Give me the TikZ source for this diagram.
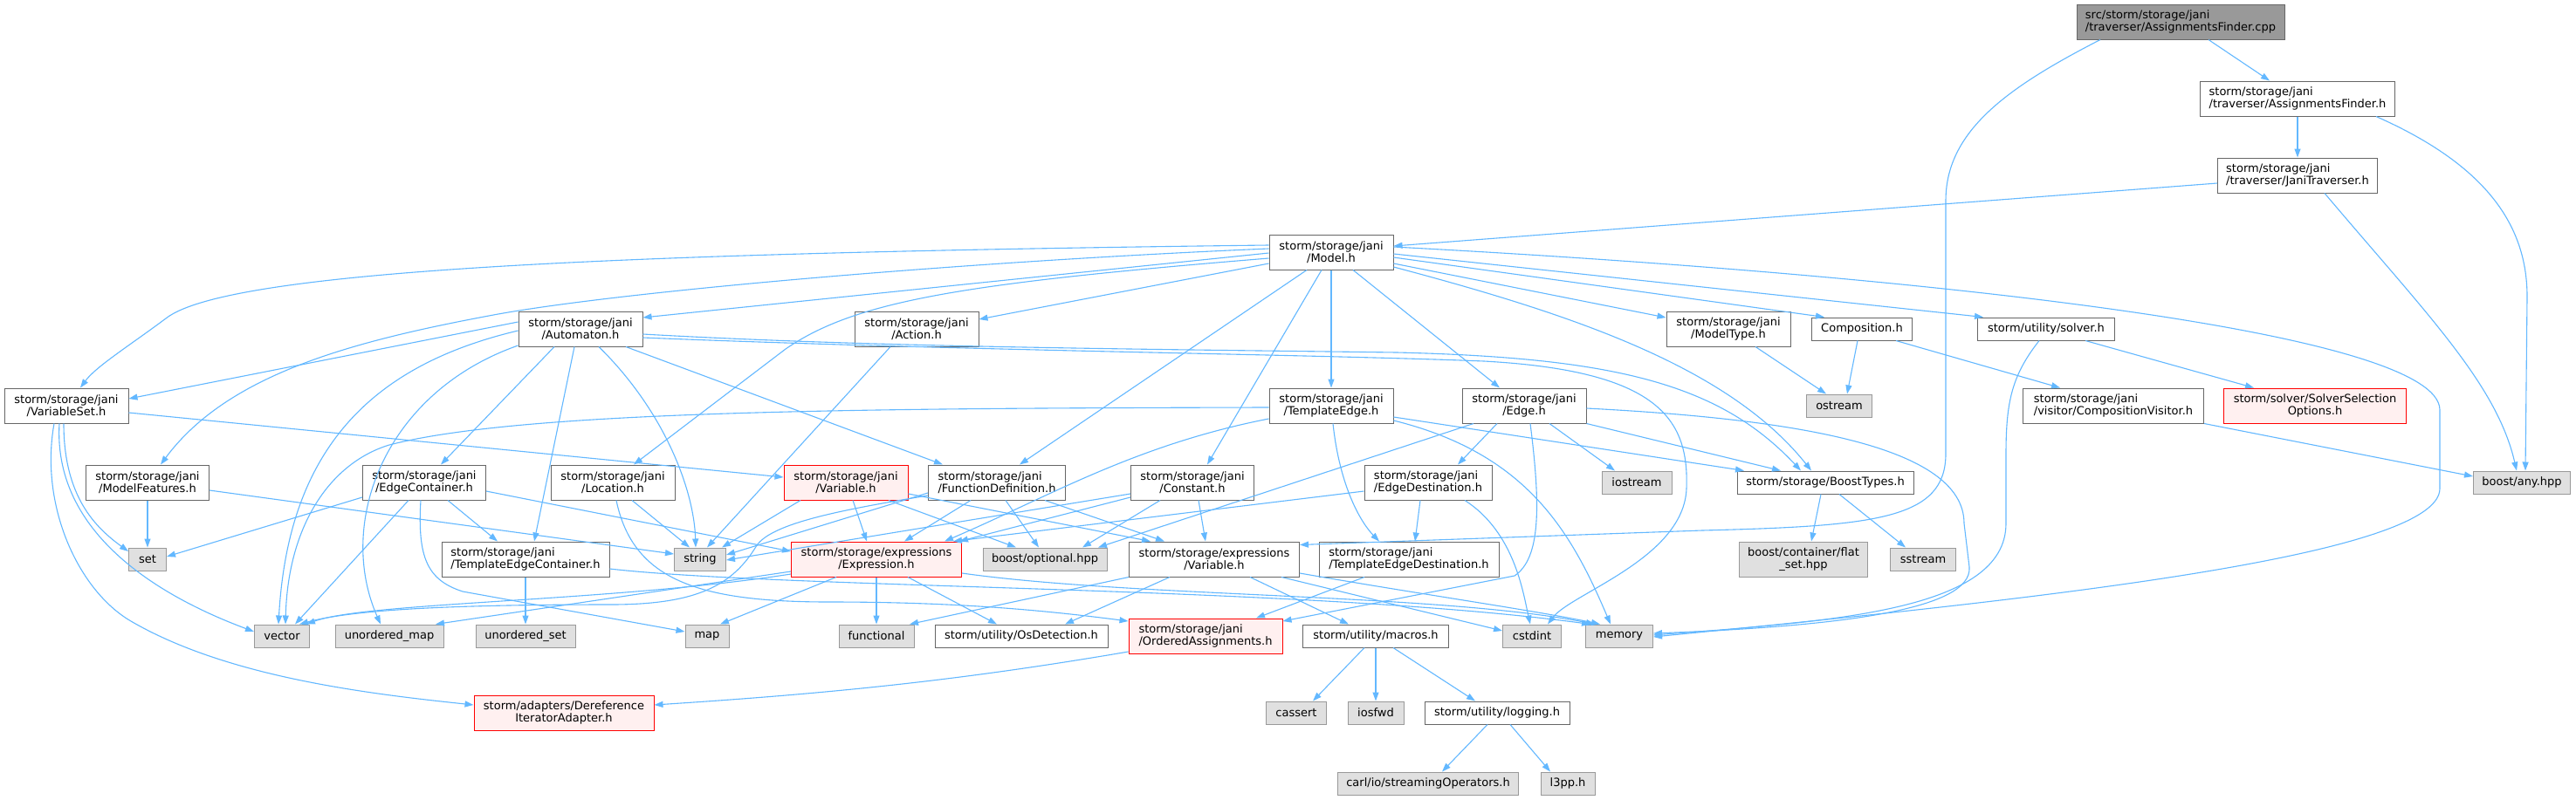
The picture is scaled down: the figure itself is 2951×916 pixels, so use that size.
\documentclass[tikz,border=0pt]{standalone}
\usepackage{fontspec}
\setmainfont{DejaVu Sans}
\usepackage{tikz}
\usetikzlibrary{arrows.meta}

\definecolor{inclBlue}{HTML}{63B8FF}
\definecolor{boxLine}{HTML}{666666}
\definecolor{sysLine}{HTML}{999999}
\definecolor{sysFill}{HTML}{E0E0E0}
\definecolor{rootFill}{HTML}{999999}
\definecolor{cutFill}{HTML}{FFF0F0}

\begin{document}
\begin{tikzpicture}[
    x=1pt, y=-1pt, >={Triangle[length=10pt,width=7pt]},
    font=\fontsize{13pt}{14.5pt}\selectfont,
    % Styles
    fileNode/.style={draw=boxLine, fill=white, line width=1pt, align=center, inner xsep=2pt, inner ysep=2pt, minimum height=26pt},
    twoLine/.style={minimum height=40pt},
    sysNode/.style={fileNode, draw=sysLine, fill=sysFill},
    rootNode/.style={fileNode, twoLine, fill=rootFill},
    cutNode/.style={fileNode, draw=red, fill=cutFill},
    incl/.style={->, draw=inclBlue, line width=1.1pt}
]

\fill[white] (0,0) rectangle (2951,916);
\useasboundingbox (0,0) rectangle (2951,916);

% ================= TOP: ROOT AND TRAVERSER =================
\node[rootNode, minimum width=238pt, align=left] (cpp) at (2498,25) {src/storm/storage/jani\\/traverser/AssignmentsFinder.cpp};
\node[fileNode, twoLine, minimum width=223pt, align=left] (afh) at (2632,113) {storm/storage/jani\\/traverser/AssignmentsFinder.h};
\node[fileNode, twoLine, minimum width=183pt, align=left] (jth) at (2632,201) {storm/storage/jani\\/traverser/JaniTraverser.h};
\node[fileNode, twoLine, minimum width=142pt] (model) at (1525,289) {storm/storage/jani\\/Model.h};

% ================= JANI HEADERS =================
\node[fileNode, twoLine, minimum width=142pt] (automaton) at (665,377) {storm/storage/jani\\/Automaton.h};
\node[fileNode, twoLine, minimum width=142pt] (action) at (1050,377) {storm/storage/jani\\/Action.h};
\node[fileNode, twoLine, minimum width=142pt] (modeltype) at (1980,377) {storm/storage/jani\\/ModelType.h};
\node[fileNode, minimum width=115pt] (composition) at (2133,377) {Composition.h};
\node[fileNode, minimum width=157pt] (solver) at (2344,377) {storm/utility/solver.h};

\node[fileNode, twoLine, minimum width=142pt] (varset) at (76,465) {storm/storage/jani\\/VariableSet.h};
\node[fileNode, twoLine, minimum width=142pt] (tedge) at (1525,465) {storm/storage/jani\\/TemplateEdge.h};
\node[fileNode, twoLine, minimum width=142pt] (edge) at (1746,465) {storm/storage/jani\\/Edge.h};
\node[sysNode, minimum width=75pt] (ostream) at (2107,465) {ostream};
\node[fileNode, twoLine, minimum width=207pt, align=left] (compvis) at (2421,465) {storm/storage/jani\\/visitor/CompositionVisitor.h};
\node[cutNode, twoLine, minimum width=209pt] (solversel) at (2652,465) {storm/solver/SolverSelection\\Options.h};

\node[fileNode, twoLine, minimum width=141pt] (modelfeat) at (169,553) {storm/storage/jani\\/ModelFeatures.h};
\node[fileNode, twoLine, minimum width=141pt] (edgecont) at (486,553) {storm/storage/jani\\/EdgeContainer.h};
\node[fileNode, twoLine, minimum width=142pt] (location) at (702,553) {storm/storage/jani\\/Location.h};
\node[cutNode, twoLine, minimum width=142pt] (jvar) at (969,553) {storm/storage/jani\\/Variable.h};
\node[fileNode, twoLine, minimum width=157pt, align=left] (funcdef) at (1142,553) {storm/storage/jani\\/FunctionDefinition.h};
\node[fileNode, twoLine, minimum width=141pt] (constant) at (1366,553) {storm/storage/jani\\/Constant.h};
\node[fileNode, twoLine, minimum width=146pt, align=left] (edgedest) at (1636,553) {storm/storage/jani\\/EdgeDestination.h};
\node[sysNode, minimum width=80pt] (iostream) at (1875,553) {iostream};
\node[fileNode, minimum width=202pt] (boosttypes) at (2091,553) {storm/storage/BoostTypes.h};
\node[sysNode, minimum width=111pt] (anyhpp) at (2889,553) {boost/any.hpp};

% ================= EXPRESSIONS AND LOWER ROWS =================
\node[sysNode, minimum width=43pt] (set) at (169,641) {set};
\node[fileNode, twoLine, minimum width=192pt, align=left] (tec) at (602,641) {storm/storage/jani\\/TemplateEdgeContainer.h};
\node[sysNode, minimum width=59pt] (string) at (802,641) {string};
\node[cutNode, twoLine, minimum width=195pt] (expr) at (1004,641) {storm/storage/expressions\\/Expression.h};
\node[sysNode, minimum width=142pt] (optional) at (1197,641) {boost/optional.hpp};
\node[fileNode, twoLine, minimum width=195pt] (evar) at (1391,641) {storm/storage/expressions\\/Variable.h};
\node[fileNode, twoLine, minimum width=206pt, align=left] (ted) at (1614,641) {storm/storage/jani\\/TemplateEdgeDestination.h};
\node[sysNode, twoLine, minimum width=147pt] (flatset) at (2066,641) {boost/container/flat\\\_set.hpp};
\node[sysNode, minimum width=75pt] (sstream) at (2203,641) {sstream};

\node[sysNode, minimum width=63pt] (vector) at (323,729) {vector};
\node[sysNode, minimum width=124pt] (umap) at (446,729) {unordered\_map};
\node[sysNode, minimum width=114pt] (uset) at (602,729) {unordered\_set};
\node[sysNode, minimum width=50pt] (map) at (810,729) {map};
\node[sysNode, minimum width=86pt] (functional) at (1004,729) {functional};
\node[fileNode, minimum width=198pt] (osdet) at (1170,729) {storm/utility/OsDetection.h};
\node[cutNode, twoLine, minimum width=176pt, align=left] (ordered) at (1381,729) {storm/storage/jani\\/OrderedAssignments.h};
\node[fileNode, minimum width=167pt] (macros) at (1576,729) {storm/utility/macros.h};
\node[sysNode, minimum width=67pt] (cstdint) at (1755,729) {cstdint};
\node[sysNode, minimum width=77pt] (memory) at (1855,729) {memory};

\node[cutNode, twoLine, minimum width=206pt] (deref) at (646,817) {storm/adapters/Dereference\\IteratorAdapter.h};
\node[sysNode, minimum width=69pt] (cassert) at (1485,817) {cassert};
\node[sysNode, minimum width=64pt] (iosfwd) at (1576,817) {iosfwd};
\node[fileNode, minimum width=166pt] (logging) at (1715,817) {storm/utility/logging.h};
\node[sysNode, minimum width=207pt] (streamops) at (1636,898) {carl/io/streamingOperators.h};
\node[sysNode, minimum width=62pt] (l3pp) at (1796,898) {l3pp.h};

% ================= INCLUDES: ROOT, TRAVERSER =================
\draw[incl] ([xshift=32pt]cpp.south) -- ([xshift=-32pt]afh.north);
\draw[incl] ([xshift=-92pt]cpp.south) .. controls (2300,100) and (2229,150) .. (2229,230) -- (2229,520) .. controls (2229,595) and (2150,603) .. (1950,608) -- ([yshift=-4pt]evar.north east);
\draw[incl] (afh) -- (jth);
\draw[incl] ([xshift=90pt]afh.south) .. controls (2850,190) and (2895,260) .. (2895,340) -- ([xshift=4pt]anyhpp.north);
\draw[incl] ([yshift=-9pt]jth.west) -- ([yshift=7pt]model.east);
\draw[incl] ([xshift=31pt]jth.south) .. controls (2780,360) and (2860,440) .. ([xshift=-6pt]anyhpp.north);

% ================= INCLUDES: MODEL =================
\draw[incl] ([yshift=8pt]model.west) .. controls (700,290) and (260,310) .. (190,365) .. controls (150,395) and (110,420) .. ([xshift=16pt]varset.north);
\draw[incl] ([yshift=4pt]model.west) .. controls (1100,300) and (700,335) .. (560,362) .. controls (400,392) and (260,430) .. ([xshift=15pt]modelfeat.north);
\draw[incl] ([yshift=-1pt]model.west) -- ([yshift=13pt]automaton.east);
\draw[incl] ([yshift=-7pt]model.west) .. controls (1100,325) and (980,345) .. (900,400) -- ([xshift=24pt]location.north);
\draw[incl] ([yshift=-13pt]model.west) -- ([yshift=11pt]action.east);
\draw[incl] ([xshift=-28pt]model.south) -- ([xshift=26pt]funcdef.north);
\draw[incl] ([xshift=-11pt]model.south) -- ([xshift=17pt]constant.north);
\draw[incl] (model) -- (tedge);
\draw[incl] ([xshift=25pt]model.south) -- ([xshift=-28pt]edge.north);
\draw[incl] ([yshift=6pt]model.east) .. controls (2200,315) and (2795,380) .. (2795,470) -- (2795,560) .. controls (2795,640) and (2300,690) .. ([yshift=-1pt]memory.east);
\draw[incl] ([yshift=-2pt]model.east) -- ([xshift=-72pt]solver.north);
\draw[incl] ([yshift=-6pt]model.east) -- ([xshift=-43pt]composition.north);
\draw[incl] ([yshift=-13pt]model.east) -- ([yshift=13pt]modeltype.west);
\draw[incl] ([yshift=-17pt]model.east) .. controls (1800,360) and (1980,420) .. ([xshift=-16pt]boosttypes.north);

% ================= INCLUDES: AUTOMATON, ACTION, COMPOSITION =================
\draw[incl] ([yshift=8pt]automaton.west) -- ([yshift=8pt]varset.east);
\draw[incl] ([yshift=-2pt]automaton.west) .. controls (420,420) and (330,520) .. ([xshift=-4pt]vector.north);
\draw[incl] ([yshift=-19pt]automaton.west) .. controls (440,450) and (385,600) .. ([xshift=-10pt]umap.north);
\draw[incl] ([xshift=-30pt]automaton.south) -- ([xshift=19pt]edgecont.north);
\draw[incl] ([xshift=-7pt]automaton.south) -- ([xshift=10pt]tec.north);
\draw[incl] ([xshift=21pt]automaton.south) .. controls (760,470) and (795,560) .. ([xshift=-5pt]string.north);
\draw[incl] ([xshift=52pt]automaton.south) -- ([xshift=-62pt]funcdef.north);
\draw[incl] ([yshift=-6pt]automaton.east) .. controls (1000,398) and (1300,400) .. (1600,404) .. controls (1850,410) and (1970,440) .. ([xshift=-28pt]boosttypes.north);
\draw[incl] ([yshift=-10pt]automaton.east) .. controls (1100,402) and (1500,406) .. (1700,414) .. controls (1900,425) and (1935,480) .. (1932,560) .. controls (1929,640) and (1800,680) .. ([xshift=18pt]cstdint.north);
\draw[incl] ([xshift=-30pt]action.south) -- ([xshift=8pt]string.north);
\draw[incl] ([xshift=31pt]modeltype.south) -- ([xshift=-15pt]ostream.north);
\draw[incl] ([xshift=-5pt]composition.south) -- ([xshift=9pt]ostream.north);
\draw[incl] ([xshift=39pt]composition.south) -- ([xshift=-61pt]compvis.north);
\draw[incl] ([xshift=45pt]solver.south) -- ([xshift=-70pt]solversel.north);
\draw[incl] ([xshift=-8pt]solver.south) .. controls (2305,430) and (2298,460) .. (2298,520) -- (2298,600) .. controls (2298,700) and (2100,712) .. ([yshift=1pt]memory.east);
\draw[incl] (compvis.south east) -- ([yshift=7pt]anyhpp.west);

% ================= INCLUDES: VARIABLESET, FEATURES, CONTAINERS =================
\draw[incl] ([yshift=-8pt]varset.east) -- ([yshift=6pt]jvar.west);
\draw[incl] ([xshift=-3pt]varset.south) .. controls (73,570) and (110,605) .. ([yshift=9pt]set.west);
\draw[incl] ([xshift=-8pt]varset.south) .. controls (60,620) and (200,690) .. ([yshift=5pt]vector.west);
\draw[incl] ([xshift=-14pt]varset.south) .. controls (45,580) and (90,677) .. (150,712) .. controls (260,776) and (420,795) .. ([yshift=9pt]deref.west);
\draw[incl] (modelfeat) -- (set);
\draw[incl] ([yshift=-9pt]modelfeat.east) -- ([yshift=6pt]string.west);
\draw[incl] ([yshift=-17pt]edgecont.west) -- ([yshift=3pt]set.east);
\draw[incl] ([xshift=-18pt]edgecont.south) -- ([xshift=15pt]vector.north);
\draw[incl] ([xshift=-4pt]edgecont.south) .. controls (478,640) and (490,665) .. (530,678) -- ([yshift=5pt]map.west);
\draw[incl] ([xshift=27pt]edgecont.south) -- ([xshift=-32pt]tec.north);
\draw[incl] ([yshift=-10pt]edgecont.east) -- ([yshift=9pt]expr.west);
\draw[incl] ([xshift=22pt]location.south) -- ([xshift=-12pt]string.north);
\draw[incl] ([xshift=4pt]location.south) .. controls (725,665) and (800,690) .. (950,690) .. controls (1100,690) and (1200,700) .. ([yshift=17pt]ordered.west);
\draw[incl] (tec) -- (uset);
\draw[incl] ([yshift=-11pt]tec.east) .. controls (900,675) and (1500,672) .. ([xshift=-33pt]memory.north);

% ================= INCLUDES: VARIABLE, FUNCTIONS, CONSTANTS =================
\draw[incl] ([xshift=-52pt]jvar.south) -- ([xshift=25pt]string.north);
\draw[incl] ([xshift=8pt]jvar.south) -- ([xshift=-11pt]expr.north);
\draw[incl] ([xshift=49pt]jvar.south) -- ([xshift=-33pt]optional.north);
\draw[incl] ([yshift=-13pt]jvar.east) -- ([xshift=-73pt]evar.north);
\draw[incl] ([xshift=-30pt]funcdef.south) -- ([xshift=32pt]expr.north);
\draw[incl] ([xshift=10pt]funcdef.south) -- ([xshift=-7pt]optional.north);
\draw[incl] ([xshift=55pt]funcdef.south) -- ([xshift=-57pt]evar.north);
\draw[incl] ([yshift=-12pt]funcdef.west) -- ([yshift=5pt]string.east);
\draw[incl] ([yshift=-15pt]funcdef.west) .. controls (960,585) and (885,600) .. (867,625) .. controls (840,670) and (800,693) .. (700,693) .. controls (500,693) and (400,700) .. ([xshift=20pt]vector.north);
\draw[incl] ([yshift=-13pt]constant.west) -- ([yshift=-1pt]string.east);
\draw[incl] ([yshift=-17pt]constant.west) -- ([xshift=95pt]expr.north);
\draw[incl] ([xshift=-37pt]constant.south) -- ([xshift=43pt]optional.north);
\draw[incl] ([xshift=7pt]constant.south) -- ([xshift=-10pt]evar.north);

% ================= INCLUDES: EDGES =================
\draw[incl] ([yshift=-2pt]tedge.west) .. controls (1000,468) and (600,470) .. (446,510) .. controls (380,530) and (330,600) .. ([xshift=4pt]vector.north);
\draw[incl] ([yshift=-15pt]tedge.west) .. controls (1300,510) and (1200,570) .. ([xshift=78pt]expr.north);
\draw[incl] ([xshift=2pt]tedge.south) .. controls (1535,560) and (1560,600) .. ([xshift=-34pt]ted.north);
\draw[incl] ([yshift=-13pt]tedge.east) -- ([xshift=-93pt]boosttypes.north);
\draw[incl] ([yshift=-17pt]tedge.east) .. controls (1750,520) and (1800,610) .. ([xshift=-10pt]memory.north);
\draw[incl] ([xshift=-58pt]edge.south) -- ([xshift=61pt]optional.north);
\draw[incl] ([xshift=-31pt]edge.south) -- ([xshift=34pt]edgedest.north);
\draw[incl] ([xshift=7pt]edge.south) .. controls (1765,580) and (1765,640) .. (1735,660) -- ([yshift=17pt]ordered.east);
\draw[incl] ([xshift=29pt]edge.south) -- ([xshift=-25pt]iostream.north);
\draw[incl] (edge.south east) -- ([xshift=-51pt]boosttypes.north);
\draw[incl] ([yshift=-3pt]edge.east) .. controls (2050,480) and (2250,510) .. (2250,600) -- (2256,650) .. controls (2260,700) and (2100,718) .. ([yshift=3pt]memory.east);
\draw[incl] ([yshift=-10pt]edgedest.west) -- ([xshift=88pt]expr.north);
\draw[incl] ([xshift=-9pt]edgedest.south) -- ([xshift=7pt]ted.north);
\draw[incl] ([xshift=42pt]edgedest.south) .. controls (1735,610) and (1745,680) .. ([xshift=-2pt]cstdint.north);
\draw[incl] ([xshift=-51pt]ted.south) -- ([xshift=58pt]ordered.north);

% ================= INCLUDES: EXPRESSIONS =================
\draw[incl] ([xshift=-46pt]expr.south) -- ([xshift=15pt]map.north);
\draw[incl] (expr) -- (functional);
\draw[incl] ([xshift=36pt]expr.south) -- ([xshift=-28pt]osdet.north);
\draw[incl] ([yshift=-16pt]expr.east) .. controls (1300,685) and (1650,680) .. ([xshift=-28pt]memory.north);
\draw[incl] ([yshift=-14pt]expr.west) -- ([xshift=53pt]umap.north);
\draw[incl] ([yshift=-17pt]expr.west) .. controls (700,690) and (420,690) .. ([xshift=28pt]vector.north);
\draw[incl] (evar.south west) -- ([xshift=38pt]functional.north);
\draw[incl] ([xshift=-51pt]evar.south) -- ([xshift=50pt]osdet.north);
\draw[incl] ([xshift=41pt]evar.south) -- ([xshift=-31pt]macros.north);
\draw[incl] ([xshift=77pt]evar.south) -- ([yshift=6pt]cstdint.west);
\draw[incl] ([yshift=-16pt]evar.east) .. controls (1620,680) and (1760,700) .. ([xshift=-22pt]memory.north);
\draw[incl] ([yshift=-18pt]ordered.west) .. controls (1100,780) and (950,795) .. ([yshift=9pt]deref.east);

% ================= INCLUDES: UTILITIES =================
\draw[incl] ([xshift=-13pt]macros.south) -- ([xshift=19pt]cassert.north);
\draw[incl] (macros) -- (iosfwd);
\draw[incl] ([xshift=20pt]macros.south) -- ([xshift=-25pt]logging.north);
\draw[incl] ([xshift=-11pt]logging.south) -- ([xshift=16pt]streamops.north);
\draw[incl] ([xshift=15pt]logging.south) -- ([xshift=-20pt]l3pp.north);
\draw[incl] ([xshift=-5pt]boosttypes.south) -- ([xshift=9pt]flatset.north);
\draw[incl] ([xshift=16pt]boosttypes.south) -- ([xshift=-20pt]sstream.north);

\end{tikzpicture}
\end{document}
